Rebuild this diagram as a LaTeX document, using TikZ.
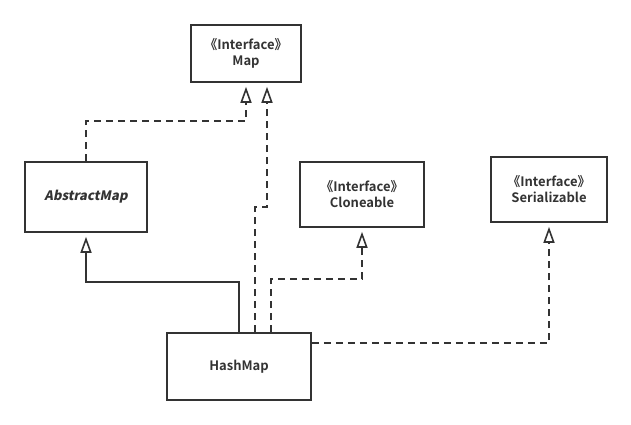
\documentclass[tikz,border=0pt]{standalone}
\usepackage{fontspec}
\setmainfont{Noto Sans CJK SC}[BoldFont={Noto Sans CJK SC Bold}]
\newfontfamily\slantfont{Noto Sans CJK SC Bold}[FakeSlant=0.2]
\usetikzlibrary{arrows.meta}
\definecolor{umlgray}{HTML}{333333}

\begin{document}
\begin{tikzpicture}[x=1pt,y=-1pt,
        classbox/.style={draw=umlgray, line width=1.6pt, text=umlgray, font=\fontsize{13}{16}\selectfont\bfseries, align=center, inner sep=0pt},
        extends/.style={draw=umlgray, line width=1.6pt, -{Triangle[open, length=16pt, width=11pt]}, shorten >=4pt},
        implements/.style={extends, dash pattern=on 7pt off 5pt}]
        \useasboundingbox (0,0) rectangle (631,425);

        \node[classbox, minimum width=110pt, minimum height=57pt] (map) at (246,53.5) {《Interface》\\Map};
        \node[classbox, minimum width=122pt, minimum height=70pt] (abstract) at (86,197) {\slantfont AbstractMap};
        \node[classbox, minimum width=124pt, minimum height=65pt] (clone) at (362,194.5) {《Interface》\\Cloneable};
        \node[classbox, minimum width=116pt, minimum height=65pt] (serial) at (549,189.5) {《Interface》\\Serializable};
        \node[classbox, minimum width=144pt, minimum height=67pt] (hashmap) at (239,366.5) {HashMap};

        \draw[implements] (abstract.north) -- ++(0,-40) -| (map.south);
        \draw[extends] (hashmap.north) -- ++(0,-50) -| (abstract.south);
        \draw[implements] ([xshift=16pt]hashmap.north) -- ++(0,-125) -| ([xshift=21pt]map.south);
        \draw[implements] ([xshift=32pt]hashmap.north) -- ++(0,-53) -| (clone.south);
        \draw[implements] ([yshift=23.5pt]hashmap.east) -| (serial.south);
    \end{tikzpicture}
\end{document}
